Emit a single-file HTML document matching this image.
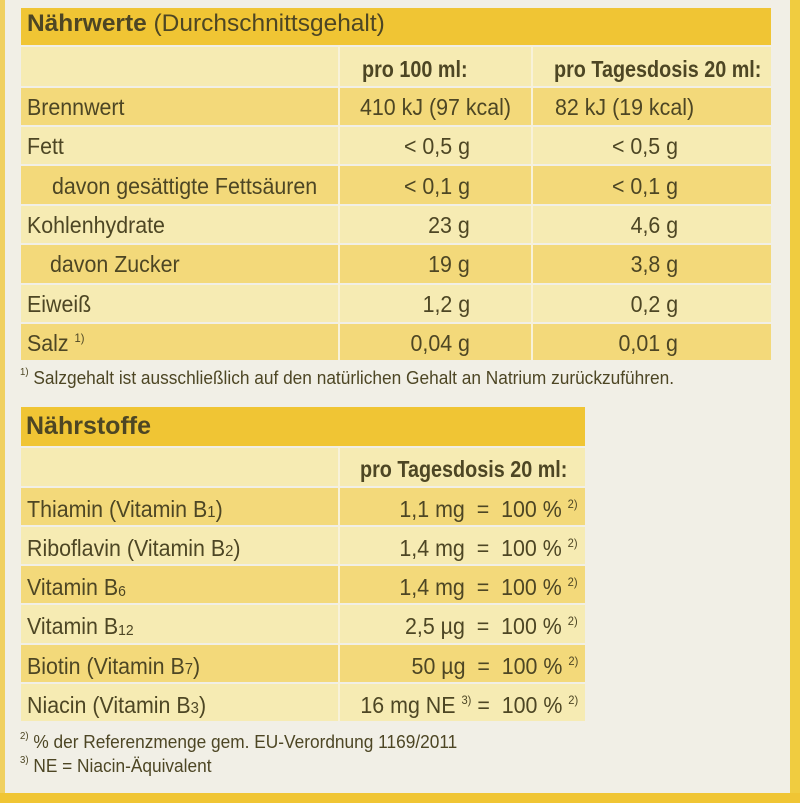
<!DOCTYPE html>
<html><head><meta charset="utf-8"><style>
*{margin:0;padding:0;box-sizing:border-box}
body{width:800px;height:803px;background:#f1efe6;position:relative;overflow:hidden;font-family:"Liberation Sans",sans-serif;color:#4d4624;font-size:23px}
.a{position:absolute;white-space:nowrap;transform:scaleX(0.93);transform-origin:left center}
.a.rr{transform-origin:right center}
.r{position:absolute}
.H{background:#f0c534}
.L{background:#f6ebb3}
.M{background:#f3d97a}
.v{position:absolute;width:2px;background:#f8f2d8}
sup{font-size:12px;vertical-align:9px}
.b{font-weight:bold;transform:scaleX(0.86)}
.f{font-size:18px;transform:scaleX(0.96)}
sub{font-size:15px;vertical-align:-1px}
</style></head><body>
<div class="r" style="left:0;top:0;width:5px;height:803px;background:#f0d060"></div>
<div class="r" style="left:790px;top:0;width:10px;height:803px;background:#f0cc40"></div>
<div class="r" style="left:0;top:793px;width:800px;height:10px;background:#f0c534"></div>

<!-- Table 1 -->
<div class="r H" style="left:21px;top:8px;width:750px;height:37px"></div>
<div class="r L" style="left:21px;top:47px;width:750px;height:39px"></div>
<div class="r M" style="left:21px;top:88px;width:750px;height:37px"></div>
<div class="r L" style="left:21px;top:127px;width:750px;height:37px"></div>
<div class="r M" style="left:21px;top:166px;width:750px;height:38px"></div>
<div class="r L" style="left:21px;top:206px;width:750px;height:37px"></div>
<div class="r M" style="left:21px;top:245px;width:750px;height:38px"></div>
<div class="r L" style="left:21px;top:285px;width:750px;height:37px"></div>
<div class="r M" style="left:21px;top:324px;width:750px;height:36px"></div>
<div class="v" style="left:338px;top:45px;height:315px"></div>
<div class="v" style="left:531px;top:45px;height:315px"></div>

<div class="a" style="left:27px;top:10px;font-size:24px;transform:scaleX(1.02)"><b>Nährwerte</b> (Durchschnittsgehalt)</div>
<div class="a b" style="left:362px;top:56px">pro 100 ml:</div>
<div class="a b" style="left:554px;top:56px">pro Tagesdosis 20 ml:</div>
<div class="a" style="left:27px;top:94px">Brennwert</div>
<div class="a" style="left:360px;top:94px">410 kJ (97 kcal)</div>
<div class="a" style="left:555px;top:94px">82 kJ (19 kcal)</div>
<div class="a" style="left:27px;top:133px">Fett</div>
<div class="a" style="left:52px;top:173px">davon gesättigte Fettsäuren</div>
<div class="a" style="left:27px;top:212px">Kohlenhydrate</div>
<div class="a" style="left:50px;top:251px">davon Zucker</div>
<div class="a" style="left:27px;top:291px">Eiweiß</div>
<div class="a" style="left:27px;top:330px">Salz <sup>1)</sup></div>
<div class="a rr" style="right:330px;top:133px">&lt; 0,5 g</div>
<div class="a rr" style="right:330px;top:173px">&lt; 0,1 g</div>
<div class="a rr" style="right:330px;top:212px">23 g</div>
<div class="a rr" style="right:330px;top:251px">19 g</div>
<div class="a rr" style="right:330px;top:291px">1,2 g</div>
<div class="a rr" style="right:330px;top:330px">0,04 g</div>
<div class="a rr" style="right:122px;top:133px">&lt; 0,5 g</div>
<div class="a rr" style="right:122px;top:173px">&lt; 0,1 g</div>
<div class="a rr" style="right:122px;top:212px">4,6 g</div>
<div class="a rr" style="right:122px;top:251px">3,8 g</div>
<div class="a rr" style="right:122px;top:291px">0,2 g</div>
<div class="a rr" style="right:122px;top:330px">0,01 g</div>
<div class="a f" style="left:20px;top:367px"><sup style="font-size:10px">1)</sup> Salzgehalt ist ausschließlich auf den natürlichen Gehalt an Natrium zurückzuführen.</div>

<!-- Table 2 -->
<div class="r H" style="left:21px;top:407px;width:564px;height:39px"></div>
<div class="r L" style="left:21px;top:448px;width:564px;height:38px"></div>
<div class="r M" style="left:21px;top:488px;width:564px;height:37px"></div>
<div class="r L" style="left:21px;top:527px;width:564px;height:37px"></div>
<div class="r M" style="left:21px;top:566px;width:564px;height:37px"></div>
<div class="r L" style="left:21px;top:605px;width:564px;height:38px"></div>
<div class="r M" style="left:21px;top:645px;width:564px;height:37px"></div>
<div class="r L" style="left:21px;top:684px;width:564px;height:37px"></div>
<div class="v" style="left:338px;top:446px;height:275px"></div>

<div class="a" style="left:26px;top:412px;font-size:25px;font-weight:bold;transform:scaleX(1)">Nährstoffe</div>
<div class="a b" style="left:360px;top:456px">pro Tagesdosis 20 ml:</div>
<div class="a" style="left:27px;top:496px">Thiamin (Vitamin B<span style="font-size:16px">1</span>)</div>
<div class="a" style="left:27px;top:535px">Riboflavin (Vitamin B<span style="font-size:16px">2</span>)</div>
<div class="a" style="left:27px;top:574px">Vitamin B<sub>6</sub></div>
<div class="a" style="left:27px;top:613px">Vitamin B<sub>12</sub></div>
<div class="a" style="left:27px;top:653px">Biotin (Vitamin B<span style="font-size:16px">7</span>)</div>
<div class="a" style="left:27px;top:692px">Niacin (Vitamin B<span style="font-size:16px">3</span>)</div>
<div class="a rr" style="right:222px;top:496px">1,1 mg&nbsp; = &nbsp;100 % <sup>2)</sup></div>
<div class="a rr" style="right:222px;top:535px">1,4 mg&nbsp; = &nbsp;100 % <sup>2)</sup></div>
<div class="a rr" style="right:222px;top:574px">1,4 mg&nbsp; = &nbsp;100 % <sup>2)</sup></div>
<div class="a rr" style="right:222px;top:613px">2,5 µg&nbsp; = &nbsp;100 % <sup>2)</sup></div>
<div class="a rr" style="right:222px;top:653px">50 µg&nbsp; = &nbsp;100 % <sup>2)</sup></div>
<div class="a rr" style="right:222px;top:692px">16 mg NE <sup>3)</sup> = &nbsp;100 % <sup>2)</sup></div>
<div class="a f" style="left:20px;top:731px"><sup style="font-size:10px">2)</sup> % der Referenzmenge gem. EU-Verordnung 1169/2011</div>
<div class="a f" style="left:20px;top:755px"><sup style="font-size:10px">3)</sup> NE = Niacin-Äquivalent</div>
</body></html>
